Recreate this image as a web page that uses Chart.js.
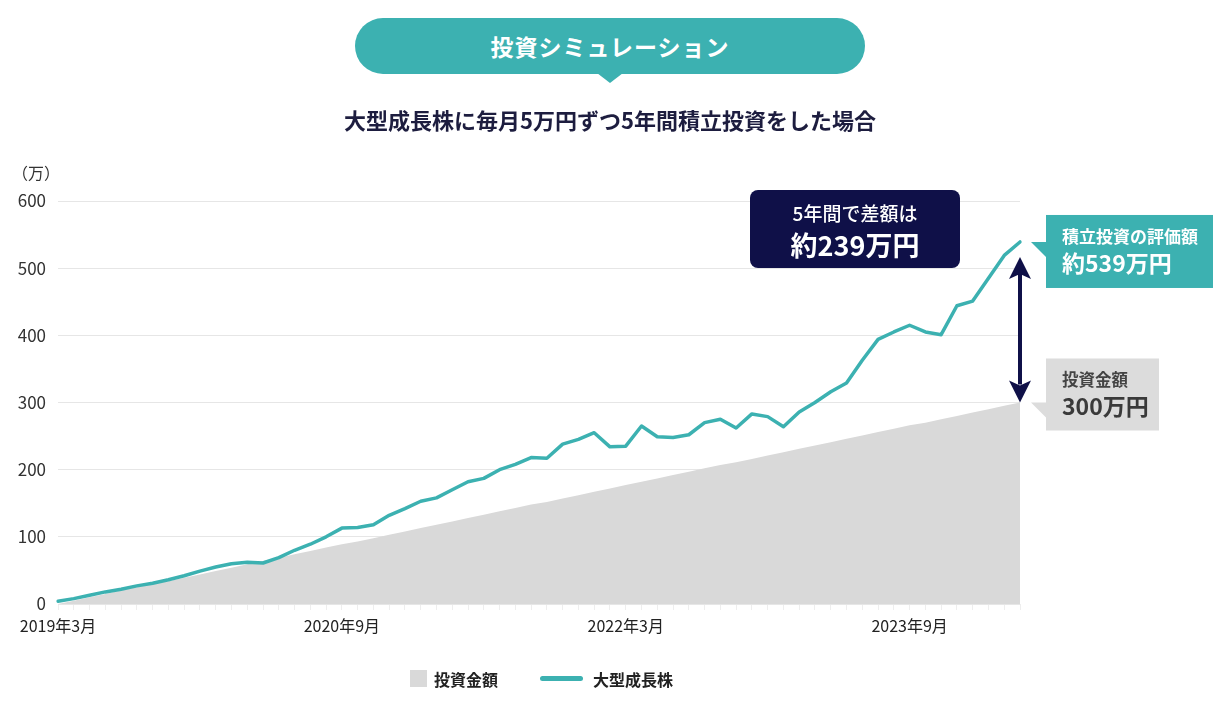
<!DOCTYPE html>
<html lang="ja">
<head>
<meta charset="utf-8">
<title>投資シミュレーション</title>
<script src="https://cdn.jsdelivr.net/npm/chart.js@4/dist/chart.umd.min.js"></script>
<style>
  body { margin: 0; background: #fff; font-family: "Noto Sans CJK JP", "Noto Sans", sans-serif; }
  #wrap { position: relative; width: 1230px; height: 713px; overflow: hidden; }
  #chart { position: absolute; left: 0; top: 0; }
  .pill {
    position: absolute; left: 355px; top: 18px; width: 510px; height: 56px;
    border-radius: 28px; background: #3cb1b1; color: #fff;
    font-size: 23px; font-weight: 700; line-height: 56px; text-align: center; letter-spacing: 1px;
  }
  .pill::after {
    content: ""; position: absolute; left: 242px; top: 55px;
    border-left: 13px solid transparent; border-right: 13px solid transparent;
    border-top: 10px solid #3cb1b1;
  }
  .sub {
    position: absolute; left: 0; width: 1220px; top: 103px; text-align: center;
    font-size: 22px; font-weight: 700; color: #1d1d3f;
  }
  .unit { position: absolute; left: 12px; top: 160px; font-size: 16px; color: #333; }
  .legend { position: absolute; left: 410px; top: 664px; font-size: 16px; font-weight: 700; color: #222; }
  .legend span { display: inline-block; vertical-align: middle; }
  .sw-area { width: 17px; height: 17px; background: #d9d9d9; margin-right: 7px; }
  .sw-line { width: 43px; height: 5px; border-radius: 3px; background: #3cb1b1; margin: 0 10px 0 42px; }
</style>
</head>
<body>
<div id="wrap">
  <canvas id="chart" width="1230" height="713"></canvas>
  <div class="pill">投資シミュレーション</div>
  <div class="sub">大型成長株に毎月5万円ずつ5年間積立投資をした場合</div>
  <div class="unit">（万）</div>
  <div class="legend">
    <span class="sw-area"></span><span>投資金額</span><span class="sw-line"></span><span>大型成長株</span>
  </div>
</div>
<script>
// * Data
const months = [
  "2019年3月", "2019年4月", "2019年5月", "2019年6月", "2019年7月", "2019年8月", "2019年9月", "2019年10月", "2019年11月", "2019年12月",
  "2020年1月", "2020年2月", "2020年3月", "2020年4月", "2020年5月", "2020年6月", "2020年7月", "2020年8月", "2020年9月", "2020年10月", "2020年11月", "2020年12月",
  "2021年1月", "2021年2月", "2021年3月", "2021年4月", "2021年5月", "2021年6月", "2021年7月", "2021年8月", "2021年9月", "2021年10月", "2021年11月", "2021年12月",
  "2022年1月", "2022年2月", "2022年3月", "2022年4月", "2022年5月", "2022年6月", "2022年7月", "2022年8月", "2022年9月", "2022年10月", "2022年11月", "2022年12月",
  "2023年1月", "2023年2月", "2023年3月", "2023年4月", "2023年5月", "2023年6月", "2023年7月", "2023年8月", "2023年9月", "2023年10月", "2023年11月", "2023年12月",
  "2024年1月", "2024年2月", "2024年3月", "2024年4月"
];
const shownTicks = ["2019年3月", "2020年9月", "2022年3月", "2023年9月"];

// 投資金額 (万円)
const invested = [
  0, 5, 10, 15, 20, 25, 30, 34, 39, 44,
  49, 54, 59, 64, 69, 74, 79, 84, 89, 93,
  98, 103, 108, 113, 118, 123, 128, 133, 138, 143,
  148, 152, 157, 162, 167, 172, 177, 182, 187, 192,
  197, 202, 207, 211, 216, 221, 226, 231, 236, 241,
  246, 251, 256, 261, 266, 270, 275, 280, 285, 290,
  295, 300
];

// 大型成長株 評価額 (万円)
const growth = [
  4, 8, 13, 18, 22, 27, 31, 36, 42, 49,
  55, 60, 62, 61, 69, 80, 89, 100, 113, 114,
  118, 132, 142, 153, 158, 170, 182, 187, 200, 208,
  218, 217, 238, 245, 255, 234, 235, 265, 249, 248,
  252, 270, 275, 262, 283, 279, 264, 286, 300, 316,
  329, 363, 394, 405, 415, 405, 401, 444, 451, 485,
  519, 539
];

const yTicks = [0, 100, 200, 300, 400, 500, 600];

const teal = "#3cb1b1";
const navy = "#0f1048";
const fontFamily = "'Noto Sans CJK JP', 'Noto Sans', sans-serif";

// * Callouts: arrow + three boxes anchored at the last points
function roundRect(ctx, x, y, w, h, r) {
  ctx.beginPath();
  ctx.moveTo(x + r, y);
  ctx.arcTo(x + w, y, x + w, y + h, r);
  ctx.arcTo(x + w, y + h, x, y + h, r);
  ctx.arcTo(x, y + h, x, y, r);
  ctx.arcTo(x, y, x + w, y, r);
  ctx.closePath();
}

function drawTag(ctx, tipX, tipY, color, boxTop, w, h) {
  const left = tipX + 26;
  ctx.fillStyle = color;
  ctx.fillRect(left, boxTop, w, h);
  ctx.beginPath();
  ctx.moveTo(tipX + 11, tipY);
  ctx.lineTo(left + 1, tipY);
  ctx.lineTo(left + 1, tipY + 16);
  ctx.closePath();
  ctx.fill();
  return left;
}

const callouts = {
  id: "callouts",
  afterDatasetsDraw(chart) {
    const ctx = chart.ctx;
    const lineMeta = chart.getDatasetMeta(0);
    const areaMeta = chart.getDatasetMeta(1);
    const top = lineMeta.data[lineMeta.data.length - 1];
    const bot = areaMeta.data[areaMeta.data.length - 1];
    const x = top.x;

    ctx.save();

    // double arrow
    ctx.strokeStyle = navy;
    ctx.fillStyle = navy;
    ctx.lineWidth = 4;
    ctx.beginPath();
    ctx.moveTo(x, top.y + 30);
    ctx.lineTo(x, bot.y - 18);
    ctx.stroke();
    const head = (tipY, dir) => {
      ctx.beginPath();
      ctx.moveTo(x, tipY);
      ctx.lineTo(x - 11, tipY + dir * 22);
      ctx.lineTo(x, tipY + dir * 17);
      ctx.lineTo(x + 11, tipY + dir * 22);
      ctx.closePath();
      ctx.fill();
    };
    head(top.y + 15, 1);
    head(bot.y, -1);

    // navy box
    const bx = x - 270, by = top.y - 52;
    roundRect(ctx, bx, by, 210, 78, 8);
    ctx.fill();
    ctx.fillStyle = "#fff";
    ctx.textAlign = "center";
    ctx.textBaseline = "middle";
    ctx.font = "500 19px " + fontFamily;
    ctx.fillText("5年間で差額は", bx + 105, by + 24);
    ctx.font = "700 27px " + fontFamily;
    ctx.fillText("約239万円", bx + 105, by + 56);

    // teal tag
    ctx.textAlign = "left";
    let left = drawTag(ctx, x, top.y, teal, top.y - 27, 167, 73);
    ctx.fillStyle = "#fff";
    ctx.font = "700 17px " + fontFamily;
    ctx.fillText("積立投資の評価額", left + 16, top.y - 5);
    ctx.font = "700 23px " + fontFamily;
    ctx.fillText("約539万円", left + 16, top.y + 21);

    // gray tag
    left = drawTag(ctx, x, bot.y, "#dcdcdc", bot.y - 44, 113, 72);
    ctx.fillStyle = "#444";
    ctx.font = "700 16.5px " + fontFamily;
    ctx.fillText("投資金額", left + 16, bot.y - 23);
    ctx.fillStyle = "#3a3a3a";
    ctx.font = "700 23px " + fontFamily;
    ctx.fillText("300万円", left + 16, bot.y + 4);

    ctx.restore();
  },
};

// * Chart
Chart.defaults.font.family = fontFamily;

const ctx = document.getElementById("chart").getContext("2d");

const simChart = new Chart(ctx, {
  type: "line",
  data: {
    labels: months,
    datasets: [
      {
        label: "大型成長株",
        data: growth,
        borderColor: teal,
        borderWidth: 3.5,
        borderJoinStyle: "round",
        borderCapStyle: "round",
        pointRadius: 0,
        fill: false,
        tension: 0,
        order: 0,
      },
      {
        label: "投資金額",
        data: invested,
        borderWidth: 0,
        borderColor: "#d9d9d9",
        backgroundColor: "#d9d9d9",
        pointRadius: 0,
        fill: "origin",
        tension: 0,
        order: 1,
      },
    ],
  },
  options: {
    responsive: false,
    animation: false,
    devicePixelRatio: 1,
    layout: { padding: { left: 0, right: 210, top: 201, bottom: 67 } },
    plugins: {
      legend: { display: false },
      tooltip: { enabled: false },
    },
    scales: {
      x: {
        grid: { drawOnChartArea: false, color: "#eeeeee", tickLength: 6 },
        border: { display: false },
        ticks: {
          autoSkip: false,
          maxRotation: 0,
          padding: 6,
          color: "#222",
          font: { size: 16 },
          callback: (val, i) => (shownTicks.includes(months[i]) ? months[i] : ""),
        },
        afterFit: (scale) => { scale.height = 42; },
      },
      y: {
        min: yTicks[0],
        max: yTicks[yTicks.length - 1],
        grid: { color: "#e6e6e6", drawTicks: false },
        border: { display: false },
        ticks: { stepSize: 100, padding: 12, color: "#333", font: { size: 17 } },
        afterFit: (scale) => { scale.width = 58; },
      },
    },
  },
  plugins: [callouts],
});
</script>
</body>
</html>
